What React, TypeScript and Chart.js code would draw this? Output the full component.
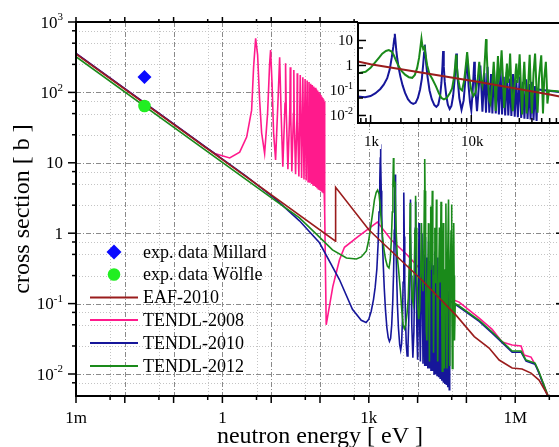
import React, { useEffect, useRef } from "react";
import { Chart, registerables } from "chart.js";

Chart.register(...registerables);

type Pt = [number, number];

const SERIF = '"Liberation Serif", "Times New Roman", Times, serif';

// ---------- data: neutron energy [eV], cross section [b] ----------
const EXP_MILLARD: Pt[] = [[0.0253, 165]];
const EXP_WOLFLE: Pt[] = [[0.0253, 64]];

const EAF_2010: Pt[] = [
  [1e-3, 352], [208, 0.772], [209, 4.5], [1000, 1.12], [11900, 0.22], [61800, 0.068],
  [145000, 0.034], [292000, 0.0234], [469000, 0.0158], [865000, 0.0122], [1380000, 0.0118],
  [2110000, 0.0103], [3080000, 0.0082], [4700000, 0.0049], [5300000, 0.0035],
];

const TENDL_2008: Pt[] = [
  [1e-3, 357], [0.214, 24.4], [0.434, 16.9], [0.697, 13.6], [1.41, 11.7], [2.26, 14.2], [3.14, 23.2],
  [3.97, 56], [4.36, 230], [4.8, 587], [5.27, 340], [5.79, 78], [6.37, 26.5], [7.33, 13.6],
  [8.43, 50], [9.27, 250], [9.72, 400], [10.4, 136], [11.2, 26.5], [12.3, 11.0],
  [13.8, 78], [14.9, 316], [15.9, 56], [17.3, 8.8],
  [19.2, 70], [19.7, 259], [20.4, 50], [22.0, 8.1],
  [24.1, 60], [24.6, 228], [25.2, 45], [26.5, 7.5],
  [28.6, 50], [29.1, 208], [29.7, 40], [31.6, 6.9],
  [33.7, 45], [34.2, 187], [34.8, 36], [36.9, 6.4],
  [39.4, 177], [42.0, 6.1], [44.5, 164], [47.0, 5.8], [49.5, 155], [52.0, 5.6], [54.5, 147],
  [57.0, 5.4], [59.5, 140], [62.0, 5.2], [64.5, 133], [67.0, 5.0], [69.5, 127], [72.0, 4.85],
  [74.5, 121], [77.0, 4.7], [79.5, 116], [82.0, 4.55], [84.5, 111], [87.0, 4.45], [89.5, 106],
  [92.0, 4.3], [94.5, 101], [97.0, 4.2], [99.5, 97], [102, 4.1], [104.5, 92], [107, 4.0],
  [109.5, 87], [112, 3.9], [114.5, 83], [117, 3.8], [119.5, 79], [122, 3.7], [124, 74],
  [125.5, 2.0], [134, 0.05], [183, 0.174], [250, 0.416], [317, 0.63], [593, 0.89], [1500, 1.44],
  [2900, 0.8], [6150, 0.49], [10800, 0.32], [24100, 0.216], [56300, 0.112], [71000, 0.105],
  [183000, 0.062], [337000, 0.043], [540000, 0.0285], [865000, 0.0258], [1320000, 0.025],
  [1520000, 0.0186], [2110000, 0.0174], [2800000, 0.0122], [4700000, 0.0049], [5300000, 0.0035],
];

const TENDL_2010: Pt[] = [
  [1e-3, 359], [3, 6.5], [12, 3.1], [38, 1.5], [97.7, 0.73], [250, 0.22], [462, 0.083], [700, 0.058],
  [881, 0.054], [1000, 0.06], [1120, 0.078], [1250, 0.115], [1350, 0.17], [1463, 0.31], [1550, 0.7],
  [1620, 2.0], [1680, 5.5], [1720, 12], [1740, 18.4], [1765, 10], [1800, 4.0], [1840, 1.9],
  [1900, 0.8], [1980, 0.35], [2080, 0.16], [2200, 0.08], [2350, 0.045], [2500, 0.033],
  [2650, 0.029], [2800, 0.032], [2950, 0.05], [3100, 0.11], [3230, 0.3], [3330, 1.1], [3400, 3.2],
  [3450, 6.8], [3500, 3.2], [3570, 1.1], [3680, 0.35], [3850, 0.1], [4050, 0.045], [4300, 0.026],
  [4500, 0.022], [4700, 0.027], [4900, 0.06], [5050, 0.2], [5170, 0.9], [5250, 3.8], [5330, 0.9],
  [5450, 0.22], [5650, 0.06], [5850, 0.027], [6100, 0.018], [6350, 0.024], [6600, 0.06],
  [6850, 0.3], [7000, 1.2], [7100, 3.0], [7200, 1.0], [7350, 0.25], [7600, 0.05], [8000, 0.017],
  [8400, 0.04], [8750, 0.3], [8950, 1.2], [9060, 2.8], [9180, 0.9], [9400, 0.15], [9700, 0.035],
  [10000, 0.016], [10300, 0.08], [10550, 0.5], [10700, 1.4], [10850, 0.4], [11100, 0.06],
  [11400, 0.015], [12300, 1.0], [12900, 0.014], [13500, 0.5], [14000, 0.013], [14500, 0.88],
  [15100, 0.013], [15700, 0.45], [16200, 0.012], [16800, 0.76], [17500, 0.012], [18200, 0.4],
  [18800, 0.011], [19500, 0.65], [20200, 0.011], [21000, 0.35], [21700, 0.01], [22500, 0.55],
  [23300, 0.01], [24200, 0.3], [25000, 0.0095], [26000, 0.45], [27000, 0.009], [28000, 0.26],
  [29000, 0.0085], [30200, 0.36], [31300, 0.008], [32500, 0.22], [33700, 0.0075], [35000, 0.28],
  [36200, 0.0072], [37500, 0.18], [38800, 0.007], [40200, 0.22], [41500, 0.0065], [43000, 0.15],
  [44500, 0.006], [45500, 0.11], [71000, 0.089], [183000, 0.056], [337000, 0.038],
  [865000, 0.0204], [1320000, 0.0204], [1670000, 0.0152], [2550000, 0.0138], [3080000, 0.0103],
  [4700000, 0.0047], [5300000, 0.0034],
];

const TENDL_2012: Pt[] = [
  [1e-3, 321], [10, 3.2], [38, 1.65], [97.7, 0.88], [180, 0.58], [348, 0.445], [557, 0.43],
  [700, 0.46], [892, 0.56], [1000, 0.8], [1120, 1.39], [1220, 2.1], [1305, 2.98], [1420, 3.8],
  [1517, 4.1], [1620, 3.6], [1700, 2.55], [1800, 1.5], [1906, 0.9], [2050, 0.58], [2200, 0.43],
  [2400, 0.34], [2590, 0.32], [2750, 0.42], [2900, 0.8], [3030, 2.0], [3120, 5.0], [3200, 11.7],
  [3260, 6.5], [3330, 4.6], [3430, 5.4], [3520, 2.5], [3650, 1.0], [3850, 0.45], [4080, 0.3],
  [4450, 0.15], [4750, 0.08], [5050, 0.05], [5350, 0.044], [5700, 0.05], [6100, 0.075],
  [6450, 0.12], [6750, 0.35], [6950, 1.2], [7050, 2.7], [7150, 1.1], [7350, 0.35], [7700, 0.12],
  [8100, 0.1], [8500, 0.25], [8850, 1.1], [9100, 3.4], [9300, 1.2], [9600, 0.3], [10000, 0.1],
  [10500, 0.06], [11000, 0.08], [11600, 0.3], [12000, 1.4], [12400, 0.3], [12900, 0.15],
  [13400, 0.5], [13800, 4.0], [14000, 11.3], [14200, 4.0], [14600, 0.3], [15100, 0.04],
  [15500, 0.03], [16300, 0.3], [16700, 1.39], [17100, 0.2], [17500, 0.015], [18000, 0.4],
  [18400, 2.4], [18800, 0.3], [19400, 0.5], [20000, 4.0], [20500, 0.5], [21200, 0.02],
  [22000, 0.25], [22600, 1.2], [23100, 0.2], [23800, 0.5], [24300, 3.0], [24800, 0.3],
  [25800, 0.015], [27000, 0.2], [28000, 1.2], [28700, 0.2], [29500, 0.5], [30200, 2.8],
  [31000, 0.2], [32000, 0.011], [33000, 0.4], [33600, 1.4], [34300, 0.2], [35500, 0.012],
  [37000, 0.3], [38000, 2.65], [38800, 0.2], [40000, 0.012], [41500, 0.5], [43000, 3.0],
  [44000, 0.3], [45500, 0.013], [47000, 0.3], [48500, 1.1], [49500, 2.55], [50500, 0.2],
  [51500, 0.012], [53000, 0.3], [55000, 1.4], [56000, 0.25], [57000, 0.03], [59000, 0.1],
  [71000, 0.0925], [183000, 0.058], [337000, 0.0395], [865000, 0.0212], [1320000, 0.0212],
  [1670000, 0.0158], [2550000, 0.0143], [3080000, 0.0107], [4700000, 0.0049], [5300000, 0.0035],
];

// ---------- axes / ticks ----------
const X_MAJOR_TICKS = [1e-3, 1e-2, 1e-1, 1, 10, 100, 1e3, 1e4, 1e5, 1e6, 1e7];
const X_MINOR_TICKS = [5e-3, 5e-2, 0.5, 5, 50, 500, 5e3, 5e4, 5e5, 5e6];
const Y_MAJOR_TICKS = [1e-2, 1e-1, 1, 10, 100, 1000];
const Y_MINOR_TICKS = [7.5e-3, 2.5e-2, 5e-2, 7.5e-2, 0.25, 0.5, 0.75, 2.5, 5, 7.5, 25, 50, 75, 250, 500, 750];
const X_TICK_LABELS: [number, string][] = [[1e-3, "1m"], [1, "1"], [1e3, "1k"], [1e6, "1M"]];
const Y_TICK_LABELS: [number, string, string][] = [
  [1000, "10", "3"], [100, "10", "2"], [10, "10", ""], [1, "1", ""], [0.1, "10", "-1"], [0.01, "10", "-2"],
];

const INSET_X_MAJOR = [1e3, 1e4];
const INSET_X_MINOR = [800, 900, 2000, 3000, 4000, 5000, 6000, 7000, 8000, 9000, 20000, 30000, 40000, 50000, 60000, 70000, 80000, 90000];
const INSET_Y_MAJOR = [0.01, 0.1, 1, 10];
const INSET_Y_MINOR = [0.05, 0.5, 5];
const INSET_X_LABELS: [number, string][] = [[1e3, "1k"], [1e4, "10k"]];
const INSET_Y_LABELS: [number, string, string][] = [[10, "10", ""], [1, "1", ""], [0.1, "10", "-1"], [0.01, "10", "-2"]];

const COLORS = {
  eaf: "#9a1c1c",
  t08: "#ff1a8c",
  t10: "#16169a",
  t12: "#1a8a1a",
  millard: "#0a0aff",
  wolfle: "#22ee22",
};

const xy = (arr: Pt[]) => arr.map(([x, y]) => ({ x, y }));

function seg(ctx: CanvasRenderingContext2D, x1: number, y1: number, x2: number, y2: number) {
  ctx.beginPath();
  ctx.moveTo(x1, y1);
  ctx.lineTo(x2, y2);
  ctx.stroke();
}

function drawPower(ctx: CanvasRenderingContext2D, base: string, exp: string, xRight: number, yMid: number, size: number) {
  ctx.font = `${size}px ${SERIF}`;
  const bw = ctx.measureText(base).width;
  const es = Math.round(size * 0.66);
  ctx.font = `${es}px ${SERIF}`;
  const ew = exp ? ctx.measureText(exp).width : 0;
  const x0 = xRight - bw - ew;
  const baseline = yMid + size * 0.33;
  ctx.textAlign = "left";
  ctx.textBaseline = "alphabetic";
  ctx.font = `${size}px ${SERIF}`;
  ctx.fillText(base, x0, baseline);
  if (exp) {
    ctx.font = `${es}px ${SERIF}`;
    ctx.fillText(exp, x0 + bw, baseline - size * 0.42);
  }
  return x0;
}

const mainDecor = {
  id: "mainDecor",
  beforeDatasetsDraw(chart: any) {
    const { ctx, chartArea: a } = chart;
    const xs = chart.scales.x;
    const ys = chart.scales.y;
    ctx.save();
    ctx.beginPath();
    ctx.rect(a.left, a.top, a.right - a.left, a.bottom - a.top);
    ctx.clip();
    ctx.lineWidth = 1;
    ctx.strokeStyle = "#c4c4c4";
    ctx.setLineDash([1, 2]);
    for (const v of X_MINOR_TICKS) {
      const p = Math.round(xs.getPixelForValue(v)) + 0.5;
      seg(ctx, p, a.top, p, a.bottom);
    }
    for (const v of Y_MINOR_TICKS) {
      const p = Math.round(ys.getPixelForValue(v)) + 0.5;
      seg(ctx, a.left, p, a.right, p);
    }
    ctx.strokeStyle = "#8a8a8a";
    ctx.setLineDash([5, 2, 1, 2]);
    for (const v of X_MAJOR_TICKS) {
      const p = Math.round(xs.getPixelForValue(v)) + 0.5;
      seg(ctx, p, a.top, p, a.bottom);
    }
    for (const v of Y_MAJOR_TICKS) {
      const p = Math.round(ys.getPixelForValue(v)) + 0.5;
      seg(ctx, a.left, p, a.right, p);
    }
    ctx.restore();
  },
  afterDatasetsDraw(chart: any) {
    const { ctx, chartArea: a } = chart;
    const xs = chart.scales.x;
    const ys = chart.scales.y;
    ctx.save();
    ctx.setLineDash([]);
    ctx.strokeStyle = "#000";
    ctx.fillStyle = "#000";
    ctx.lineWidth = 1.5;
    for (const v of X_MAJOR_TICKS) {
      const p = xs.getPixelForValue(v);
      seg(ctx, p, a.bottom, p, a.bottom + 7);
      seg(ctx, p, a.top, p, a.top - 5);
    }
    for (const v of X_MINOR_TICKS) {
      const p = xs.getPixelForValue(v);
      seg(ctx, p, a.bottom, p, a.bottom + 4);
      seg(ctx, p, a.top, p, a.top - 3);
    }
    for (const v of Y_MAJOR_TICKS) {
      const p = ys.getPixelForValue(v);
      seg(ctx, a.left - 8, p, a.left, p);
      seg(ctx, a.right - 8, p, a.right, p);
    }
    for (const v of Y_MINOR_TICKS) {
      const p = ys.getPixelForValue(v);
      seg(ctx, a.left - 4, p, a.left, p);
      seg(ctx, a.right - 4, p, a.right, p);
    }
    ctx.lineWidth = 2;
    ctx.strokeRect(a.left, a.top, a.right - a.left, a.bottom - a.top);

    // tick labels
    for (const [v, t] of X_TICK_LABELS) {
      ctx.font = `17px ${SERIF}`;
      ctx.textAlign = "center";
      ctx.textBaseline = "alphabetic";
      ctx.fillText(t, xs.getPixelForValue(v), a.bottom + 27);
    }
    for (const [v, b, e] of Y_TICK_LABELS) {
      drawPower(ctx, b, e, a.left - 13, ys.getPixelForValue(v), 17);
    }

    // axis titles
    ctx.font = `24px ${SERIF}`;
    ctx.textAlign = "center";
    ctx.textBaseline = "alphabetic";
    ctx.fillText("neutron energy [ eV ]", (a.left + a.right) / 2, a.bottom + 47);
    ctx.save();
    ctx.translate(29, (a.top + a.bottom) / 2);
    ctx.rotate(-Math.PI / 2);
    ctx.fillText("cross section [ b ]", 0, 0);
    ctx.restore();

    // legend
    const rows = [252, 274.5, 297.5, 320, 343, 366];
    const items = chart.data.datasets.slice().sort((p: any, q: any) => p.legendRank - q.legendRank);
    items.forEach((ds: any, i: number) => {
      const cy = rows[i];
      if (ds.legendKind === "diamond") {
        ctx.fillStyle = ds.pointBackgroundColor;
        ctx.beginPath();
        ctx.moveTo(114, cy - 7.5);
        ctx.lineTo(121.5, cy);
        ctx.lineTo(114, cy + 7.5);
        ctx.lineTo(106.5, cy);
        ctx.closePath();
        ctx.fill();
      } else if (ds.legendKind === "circle") {
        ctx.fillStyle = ds.pointBackgroundColor;
        ctx.beginPath();
        ctx.arc(114, cy, 6.3, 0, Math.PI * 2);
        ctx.fill();
      } else {
        ctx.strokeStyle = ds.borderColor;
        ctx.lineWidth = 2;
        seg(ctx, 90, cy, 138, cy);
      }
      ctx.fillStyle = "#000";
      ctx.font = `18px ${SERIF}`;
      ctx.textAlign = "left";
      ctx.textBaseline = "middle";
      ctx.fillText(ds.label, 143, cy + 1);
    });
    ctx.restore();
  },
};

const insetDecor = {
  id: "insetDecor",
  beforeDatasetsDraw(chart: any) {
    const { ctx, chartArea: a } = chart;
    ctx.save();
    ctx.fillStyle = "#fff";
    ctx.fillRect(a.left, a.top - 8, a.right - a.left + 10, a.bottom - a.top + 8);
    ctx.restore();
  },
  afterDatasetsDraw(chart: any) {
    const { ctx, chartArea: a } = chart;
    const xs = chart.scales.x;
    const ys = chart.scales.y;
    ctx.save();
    ctx.strokeStyle = "#000";
    ctx.fillStyle = "#000";
    ctx.lineWidth = 1.5;
    for (const v of INSET_X_MAJOR) {
      const p = xs.getPixelForValue(v);
      seg(ctx, p, a.bottom, p, a.bottom - 8);
    }
    for (const v of INSET_X_MINOR) {
      const p = xs.getPixelForValue(v);
      seg(ctx, p, a.bottom, p, a.bottom - 5);
    }
    for (const v of INSET_Y_MAJOR) {
      const p = ys.getPixelForValue(v);
      seg(ctx, a.left, p, a.left + 8, p);
    }
    for (const v of INSET_Y_MINOR) {
      const p = ys.getPixelForValue(v);
      seg(ctx, a.left, p, a.left + 5, p);
    }
    ctx.lineWidth = 2;
    ctx.strokeRect(a.left, a.top, a.right - a.left, a.bottom - a.top);

    // labels on white boxes
    for (const [v, b, e] of INSET_Y_LABELS) {
      const py = ys.getPixelForValue(v);
      ctx.font = `15px ${SERIF}`;
      const w = ctx.measureText(b).width + (e ? 9 : 0);
      ctx.fillStyle = "#fff";
      ctx.fillRect(a.left - 6 - w - 2, py - 8, w + 7, 16);
      ctx.fillStyle = "#000";
      drawPower(ctx, b, e, a.left - 5, py, 15);
    }
    for (const [v, t] of INSET_X_LABELS) {
      const px = xs.getPixelForValue(v) + 1;
      ctx.font = `15px ${SERIF}`;
      const w = ctx.measureText(t).width;
      ctx.fillStyle = "#fff";
      ctx.fillRect(px - w / 2 - 2, a.bottom + 10, w + 4, 16);
      ctx.fillStyle = "#000";
      ctx.textAlign = "center";
      ctx.textBaseline = "alphabetic";
      ctx.fillText(t, px, a.bottom + 23);
    }
    ctx.restore();
  },
};

function lineDs(label: string, data: Pt[], color: string, width: number, rank: number) {
  return {
    label,
    data: xy(data),
    borderColor: color,
    backgroundColor: color,
    borderWidth: width,
    pointRadius: 0,
    fill: false,
    tension: 0,
    legendRank: rank,
    legendKind: "line",
  } as any;
}

export default function App() {
  const mainRef = useRef<HTMLCanvasElement>(null);
  const insetRef = useRef<HTMLCanvasElement>(null);

  useEffect(() => {
    const common = {
      animation: false,
      responsive: false,
      devicePixelRatio: 1,
      events: [],
      plugins: { legend: { display: false }, tooltip: { enabled: false } },
    };
    const main = new Chart(mainRef.current as HTMLCanvasElement, {
      type: "line",
      data: {
        datasets: [
          {
            label: "exp. data Millard",
            data: xy(EXP_MILLARD),
            showLine: false,
            pointStyle: "rectRot",
            pointRadius: 7,
            pointBackgroundColor: COLORS.millard,
            pointBorderColor: COLORS.millard,
            pointBorderWidth: 0,
            legendRank: 0,
            legendKind: "diamond",
          } as any,
          {
            label: "exp. data Wölfle",
            data: xy(EXP_WOLFLE),
            showLine: false,
            pointStyle: "circle",
            pointRadius: 6.3,
            pointBackgroundColor: COLORS.wolfle,
            pointBorderColor: COLORS.wolfle,
            pointBorderWidth: 0,
            legendRank: 1,
            legendKind: "circle",
          } as any,
          lineDs("EAF-2010", EAF_2010, COLORS.eaf, 1.6, 2),
          lineDs("TENDL-2012", TENDL_2012, COLORS.t12, 1.6, 5),
          lineDs("TENDL-2010", TENDL_2010, COLORS.t10, 1.6, 4),
          lineDs("TENDL-2008", TENDL_2008, COLORS.t08, 1.6, 3),
        ],
      },
      options: {
        ...common,
        parsing: false,
        layout: { padding: { left: 76, top: 22, right: 36, bottom: 51 } },
        scales: {
          x: { type: "logarithmic", min: 1e-3, max: 1e7, display: false },
          y: { type: "logarithmic", min: 0.00487, max: 1000, display: false },
        },
      } as any,
      plugins: [mainDecor as any],
    });

    const inset = new Chart(insetRef.current as HTMLCanvasElement, {
      type: "line",
      data: {
        datasets: [
          lineDs("EAF-2010", EAF_2010, COLORS.eaf, 2, 0),
          lineDs("TENDL-2012", TENDL_2012, COLORS.t12, 2, 2),
          lineDs("TENDL-2010", TENDL_2010, COLORS.t10, 2, 1),
        ],
      },
      options: {
        ...common,
        parsing: false,
        layout: { padding: { left: 38, top: 15, right: 8, bottom: 30 } },
        scales: {
          x: { type: "logarithmic", min: 750, max: 1e5, display: false },
          y: { type: "logarithmic", min: 0.005, max: 50, display: false },
        },
      } as any,
      plugins: [insetDecor as any],
    });

    return () => {
      main.destroy();
      inset.destroy();
    };
  }, []);

  return (
    <div
      style={{
        position: "fixed",
        left: 0,
        top: 0,
        width: 559,
        height: 447,
        overflow: "hidden",
        background: "#fff",
      }}
    >
      <canvas
        ref={mainRef}
        width={600}
        height={447}
        style={{ position: "absolute", left: 0, top: 0, width: 600, height: 447 }}
      />
      <canvas
        ref={insetRef}
        width={260}
        height={145}
        style={{ position: "absolute", left: 320, top: 8, width: 260, height: 145 }}
      />
    </div>
  );
}
